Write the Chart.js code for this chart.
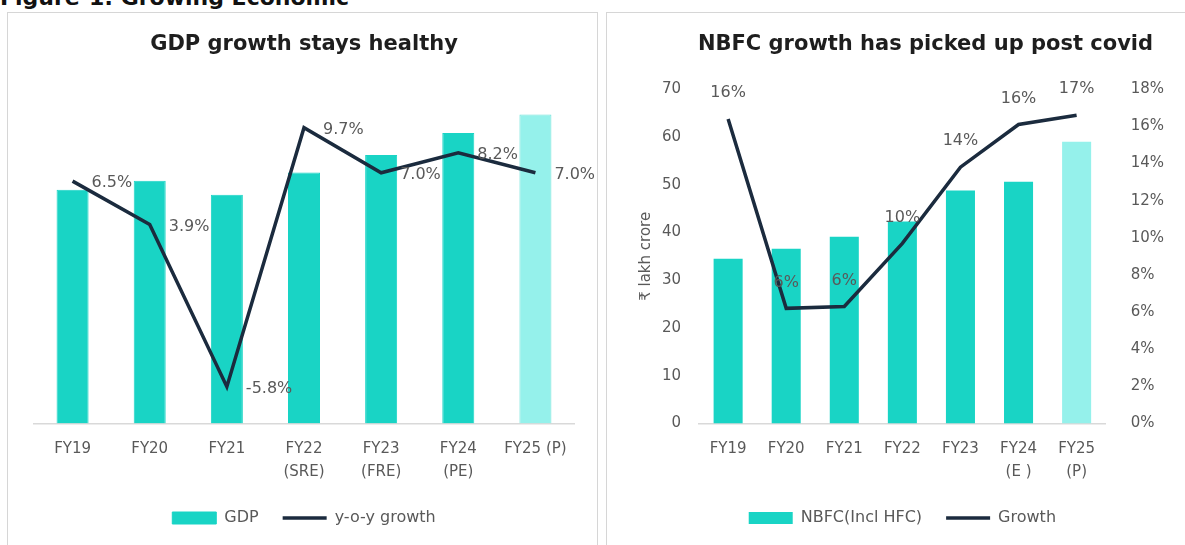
<!DOCTYPE html>
<html>
<head>
<meta charset="utf-8">
<script src="https://cdn.jsdelivr.net/npm/chart.js@4.4.1/dist/chart.umd.min.js"></script>
<style>
  html, body { margin: 0; padding: 0; background: #fff; overflow: hidden; }
  body { width: 1185px; height: 545px; position: relative; font-family: "DejaVu Sans", Verdana, sans-serif; }
  .fig-title { position: absolute; left: 0; top: -13px; font-size: 22px; line-height: 22px; font-weight: bold; color: #111; white-space: nowrap; }
  .panel { position: absolute; border: 1.5px solid #d6d6d6; background: #fff; }
  #panel-left  { left: 7px;   top: 12px; width: 589px; height: 560px; }
  #panel-right { left: 606px; top: 12px; width: 640px; height: 560px; }
  canvas { position: absolute; }
  #gdp-chart  { left: 8px;   top: 13px; }
  #nbfc-chart { left: 607px; top: 13px; }
</style>
</head>
<body>
<div class="fig-title">Figure-1: Growing Economic</div>
<div class="panel" id="panel-left"></div>
<div class="panel" id="panel-right"></div>
<canvas id="gdp-chart" width="589" height="523" style="width:589px;height:523px"></canvas>
<canvas id="nbfc-chart" width="611" height="523" style="width:611px;height:523px"></canvas>
<script>
// ── data ────────────────────────────────────────────────────
const gdpCategories = ['FY19', 'FY20', 'FY21', ['FY22', '(SRE)'], ['FY23', '(FRE)'], ['FY24', '(PE)'], 'FY25 (P)'];
const gdpValues     = [139.9, 145.3, 136.9, 150.2, 160.7, 173.8, 184.9];   // ₹ lakh crore (axis hidden)
const gdpGrowth     = [6.5, 3.9, -5.8, 9.7, 7.0, 8.2, 7.0];                // %

const nbfcCategories = ['FY19', 'FY20', 'FY21', 'FY22', 'FY23', ['FY24', '(E )'], ['FY25', '(P)']];
const nbfcValues     = [34.5, 36.6, 39.1, 42.3, 48.8, 50.6, 59.0];          // ₹ lakh crore
const nbfcGrowth     = [16.4, 6.2, 6.3, 9.7, 13.8, 16.1, 16.6];             // %

// ── look ────────────────────────────────────────────────────
const TEAL       = '#19d4c5';
const TEAL_LIGHT = '#95f1eb';
const NAVY       = '#1b2b3e';
const GREY_TXT   = '#595959';
const FONT       = '"DejaVu Sans", Verdana, sans-serif';

Chart.defaults.font.family = FONT;
Chart.defaults.color = GREY_TXT;
Chart.defaults.animation = false;

// 마지막 막대(추정치)만 옅은 색
const barColors = (vals) => vals.map((v, i) => (i === vals.length - 1 ? TEAL_LIGHT : TEAL));

// 라인 데이터 라벨 (datalabels 플러그인 대신 간단히)
const lineLabels = {
  id: 'lineLabels',
  afterDatasetsDraw(chart, args, opts) {
    const { ctx } = chart;
    chart.data.datasets.forEach((ds, i) => {
      if (ds.type !== 'line') return;
      const meta = chart.getDatasetMeta(i);
      ctx.save();
      ctx.font = `16px ${FONT}`;
      ctx.fillStyle = GREY_TXT;
      ctx.textAlign = opts.align;
      ctx.textBaseline = 'middle';
      meta.data.forEach((pt, j) => {
        const v = ds.data[j];
        const txt = (opts.decimals ? v.toFixed(opts.decimals) : Math.round(v)) + '%';
        ctx.fillText(txt, pt.x + opts.dx, pt.y + opts.dy);
      });
      ctx.restore();
    });
  },
};

const legendOpts = (fullSize) => ({
  position: 'bottom',
  fullSize,
  labels: {
    usePointStyle: true,
    pointStyleWidth: 44,
    boxHeight: 12,
    padding: 24,
    color: GREY_TXT,
    font: { size: 16 },
    sort: (a, b) => a.datasetIndex - b.datasetIndex,
  },
});

const titleOpts = (text) => ({
  display: true,
  text,
  color: '#1e1e1e',
  font: { size: 21, weight: 'bold' },
  padding: { top: 19, bottom: 32 },
});

const xAxis = (extra) => ({
  grid: { display: false, drawTicks: false },
  border: { color: '#d9d9d9', width: 1.5 },
  ticks: { color: GREY_TXT, font: { size: 15, lineHeight: 1.55 }, padding: 14, maxRotation: 0, autoSkip: false },
  afterFit: (scale) => { scale.height += extra; },
});

// ── left: GDP ───────────────────────────────────────────────
new Chart(document.getElementById('gdp-chart'), {
  data: {
    labels: gdpCategories,
    datasets: [
      {
        type: 'bar',
        label: 'GDP',
        data: gdpValues,
        yAxisID: 'y',
        order: 1,
        backgroundColor: barColors(gdpValues),
        borderColor: gdpValues.map((v, i) => (i === gdpValues.length - 1 ? '#6fe3da' : TEAL)),
        borderWidth: 1,
        pointStyle: 'rect',
        categoryPercentage: 0.415,
        barPercentage: 1,
      },
      {
        type: 'line',
        label: 'y-o-y growth',
        data: gdpGrowth,
        yAxisID: 'y1',
        order: 0,
        borderColor: NAVY,
        backgroundColor: NAVY,
        borderWidth: 3.5,
        pointRadius: 0,
        pointStyle: 'line',
        tension: 0,
      },
    ],
  },
  options: {
    responsive: false,
    layout: { padding: { left: 26, right: 23, top: 0, bottom: 0 } },
    plugins: {
      title: titleOpts('GDP growth stays healthy'),
      legend: legendOpts(true),
      tooltip: { enabled: false },
      lineLabels: { align: 'left', dx: 19, dy: 2, decimals: 1 },
    },
    scales: {
      x: xAxis(-12),
      y:  { display: false, min: 0, max: 200 },
      y1: { display: false, min: -8, max: 12, position: 'right' },
    },
  },
  plugins: [lineLabels],
});

// ── right: NBFC ─────────────────────────────────────────────
new Chart(document.getElementById('nbfc-chart'), {
  data: {
    labels: nbfcCategories,
    datasets: [
      {
        type: 'bar',
        label: 'NBFC(Incl HFC)',
        data: nbfcValues,
        yAxisID: 'y',
        order: 1,
        backgroundColor: barColors(nbfcValues),
        pointStyle: 'rect',
        categoryPercentage: 0.5,
        barPercentage: 1,
      },
      {
        type: 'line',
        label: 'Growth',
        data: nbfcGrowth,
        yAxisID: 'y1',
        order: 0,
        borderColor: NAVY,
        backgroundColor: NAVY,
        borderWidth: 3.5,
        pointRadius: 0,
        pointStyle: 'line',
        tension: 0,
      },
    ],
  },
  options: {
    responsive: false,
    layout: { padding: { left: 26, right: 0, top: 0, bottom: 0 } },
    plugins: {
      title: titleOpts('NBFC growth has picked up post covid'),
      legend: legendOpts(false),
      tooltip: { enabled: false },
      lineLabels: { align: 'center', dx: 0, dy: -26, decimals: 0 },
    },
    scales: {
      x: xAxis(-12),
      y: {
        min: 0, max: 70,
        grid: { display: false, drawTicks: false },
        border: { display: false },
        ticks: { stepSize: 10, padding: 18, color: GREY_TXT, font: { size: 15 } },
        title: { display: true, text: '₹ lakh crore', color: GREY_TXT, font: { size: 15 }, padding: { top: 4, bottom: 0 } },
        afterFit: (scale) => { scale.width -= 11; },
      },
      y1: {
        position: 'right',
        min: 0, max: 18,
        grid: { display: false, drawTicks: false },
        border: { display: false },
        ticks: { stepSize: 2, padding: 25, color: GREY_TXT, font: { size: 15 }, callback: (v) => v + '%' },
        afterFit: (scale) => { scale.width += 29; },
      },
    },
  },
  plugins: [lineLabels],
});
</script>
</body>
</html>
